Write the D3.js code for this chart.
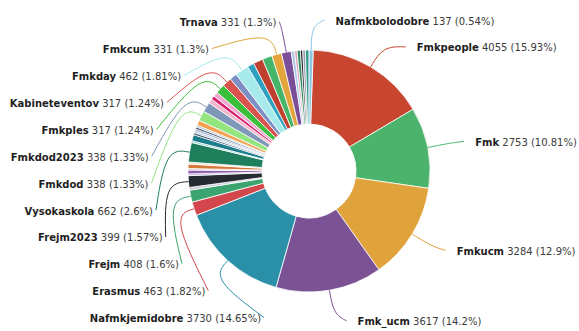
<!DOCTYPE html>
<html>
<head>
<meta charset="utf-8">
<script src="https://cdn.jsdelivr.net/npm/d3@7/dist/d3.min.js"></script>
<style>
    body { margin: 0; background: #fff; }
    .lbl { font-family: "DejaVu Sans", sans-serif; font-size: 10px; }
    .lbl .name { font-weight: bold; fill: #1e1e1e; }
    .lbl .val { fill: #3a3a3a; }
</style>
</head>
<body>
<div id="piechart"></div>
<script>
// slices in drawing order (clockwise from top); null = label hidden in the original
const names = ['Fmkpeople', 'Fmk', 'Fmkucm', 'Fmk_ucm', 'Nafmkjemidobre', 'Erasmus', 'Frejm', null,
    'Frejm2023', null, null, null, null, null, 'Vysokaskola', null, null, null, null, null, null, null, null,
    'Fmkdod', 'Fmkdod2023', null, null, null, 'Fmkples', 'Kabineteventov', null, 'Fmkday', null, null, null,
    'Fmkcum', 'Trnava', null, null, null, null, null, null, 'Nafmkbolodobre'];
const values = [4055, 2753, 3284, 3617, 3730, 463, 408, 90,
    399, 60, 130, 50, 150, 70, 662, 60, 210, 70, 70, 65, 70, 65, 175,
    338, 338, 150, 130, 160, 317, 317, 250, 462, 230, 330, 331,
    331, 331, 110, 90, 110, 80, 90, 125, 137];
const colors = ['#c8452f', '#4bb36b', '#e0a23a', '#7b5395', '#2a90a8', '#d3474c', '#3ca46e', '#c9ccd6',
    '#262a31', '#b8a4d8', '#8e63ab', '#e9c4cc', '#d5783b', '#f2e3c6', '#1f7e5b', '#86cfcf', '#1c7d8d', '#3c4b5c',
    '#abc9ea', '#8da2c2', '#404e60', '#a7c5e2', '#f2a251', '#93e57f', '#7f97b8', '#f4b6c9', '#d61f6f', '#f0a8d0',
    '#3cbf3c', '#d9534f', '#7d8fc4', '#a6eaec', '#2ea0c0', '#c0402f', '#45b56a', '#e3a43c', '#7a4f97',
    '#a9c7ea', '#d9a6b8', '#2f8a5e', '#1c1c24', '#9aa0a8', '#2f9a8a', '#8fc4e4'];

let width = 579, height = 331;
const cx = 309, cy = 171;
const innerR = 47, outerR = 121;
const len1 = 24, len2 = 13;      // label line pieces
const labelR = 152;              // natural label height
const gap = 26.9, labelTop = 20, labelBottom = 324;
const startA = 2 * Math.PI / 180;

const data = names.map((n, i) => ({ name: n, value: values[i], color: colors[i] }));
const total = d3.sum(values);

const svg = d3.select('#piechart')
    .append('svg')
    .attr('width', width)
    .attr('height', height);

const g = svg.append('g')
    .attr('transform', 'translate(' + cx + ',' + cy + ')');

const pie = d3.pie()
    .value(d => d.value)
    .sort(null)
    .startAngle(startA)
    .endAngle(startA + 2 * Math.PI);

const arc = d3.arc().innerRadius(innerR).outerRadius(outerR);
const arcs = pie(data);

g.selectAll('path.slice')
    .data(arcs)
    .enter()
    .append('path')
    .attr('class', 'slice')
    .attr('d', arc)
    .attr('fill', d => d.data.color)
    .attr('stroke', '#fff')
    .attr('stroke-width', 0.8);

// label layout
const labels = arcs.filter(d => d.data.name).map(d => {
    const mid = (d.startAngle + d.endAngle) / 2;
    const dxNat = (outerR + len1) * Math.sin(mid);
    return {
        d: d, mid: mid, dxNat: dxNat,
        side: dxNat >= 0 ? 1 : -1,
        y: -labelR * Math.cos(mid)
    };
});

[1, -1].forEach(side => {
    const list = labels.filter(l => l.side === side).sort((a, b) => a.y - b.y);
    // push apart top to bottom, then pull back from the bottom
    for (let i = 0; i < list.length; i++) {
        let minY = i === 0 ? labelTop - cy : list[i - 1].y + gap;
        if (list[i].y < minY) list[i].y = minY;
    }
    for (let i = list.length - 1; i >= 0; i--) {
        let maxY = i === list.length - 1 ? labelBottom - cy : list[i + 1].y - gap;
        if (list[i].y > maxY) list[i].y = maxY;
    }
    const rB = d3.max(list, l => Math.abs(l.y)) + 1;
    const rA = outerR + len1;
    list.forEach(l => {
        let off = rA * Math.sqrt(Math.max(0, 1 - (l.y * l.y) / (rB * rB))) + len2;
        if (Math.abs(l.dxNat) < len2) off = Math.abs(l.dxNat) + len2;
        l.x = side * off;
    });
});

const line = d3.line().curve(d3.curveBasis);

g.selectAll('path.lline')
    .data(labels)
    .enter()
    .append('path')
    .attr('class', 'lline')
    .attr('fill', 'none')
    .attr('stroke', l => l.d.data.color)
    .attr('stroke-width', 1)
    .attr('d', l => {
        const p0 = [outerR * Math.sin(l.mid), -outerR * Math.cos(l.mid)];
        const p1 = [(outerR + len1) * Math.sin(l.mid), -(outerR + len1) * Math.cos(l.mid)];
        const p2 = [l.x, l.y];
        return line([p0, p1, p2]);
    });

const fmtPct = v => +(v / total * 100).toFixed(2);

const txt = g.selectAll('text.lbl')
    .data(labels)
    .enter()
    .append('text')
    .attr('class', 'lbl')
    .attr('x', l => l.x + (l.side > 0 ? 11 : -3))
    .attr('y', l => l.y + 1)
    .attr('dy', '0.35em')
    .attr('text-anchor', l => l.side > 0 ? 'start' : 'end');

txt.append('tspan').attr('class', 'name').text(l => l.d.data.name);
txt.append('tspan').attr('class', 'val')
    .text(l => ' ' + l.d.data.value + ' (' + fmtPct(l.d.data.value) + '%)');
</script>
</body>
</html>
